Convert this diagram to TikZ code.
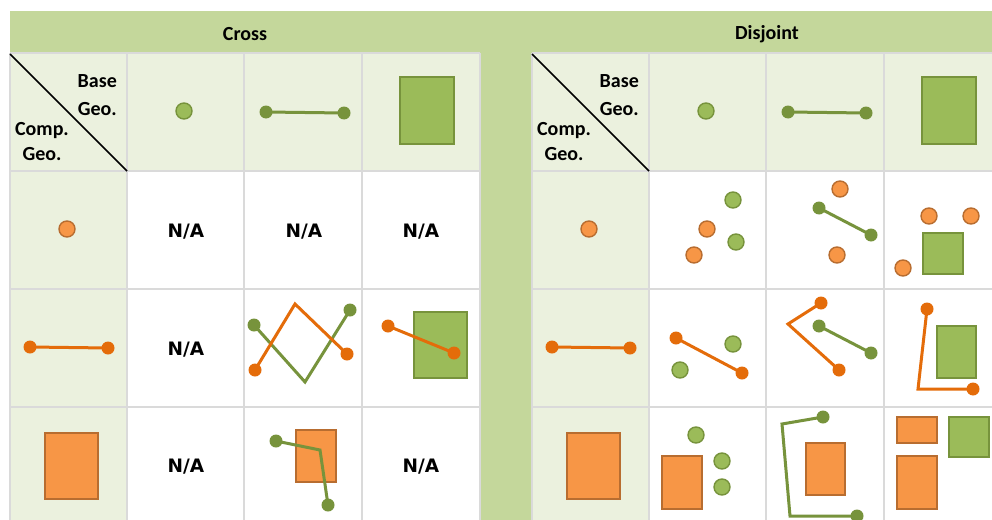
\documentclass[tikz,border=0pt]{standalone}
\usepackage{fontspec}
\setmainfont{Carlito}
\newfontfamily\nafont{DejaVu Sans}
\definecolor{band}{HTML}{C4D79B}
\definecolor{light}{HTML}{EBF1DE}
\definecolor{gridc}{HTML}{DADADA}
\definecolor{gfill}{HTML}{9BBB59}
\definecolor{gline}{HTML}{77933C}
\definecolor{ofill}{HTML}{F79646}
\definecolor{oedge}{HTML}{B86D30}
\definecolor{oline}{HTML}{E46C0A}
\tikzset{
  ptO/.style={fill=ofill,draw=oedge,line width=1.4pt},
  ptG/.style={fill=gfill,draw=gline,line width=1.4pt},
  rectO/.style={fill=ofill,draw=oedge,line width=1.6pt},
  rectG/.style={fill=gfill,draw=gline,line width=1.6pt},
  olin/.style={draw=oline,line width=3pt,line join=miter},
  glin/.style={draw=gline,line width=3pt,line join=miter},
  dotO/.style={fill=oline},
  dotG/.style={fill=gline},
  gridline/.style={draw=gridc,line width=2.4pt},
  hdr/.style={font=\fontsize{20}{22}\selectfont\bfseries,inner sep=0pt},
  lab/.style={font=\fontsize{20}{22}\selectfont\bfseries,inner sep=0pt},
  na/.style={font=\nafont\fontsize{18.5}{20}\selectfont\bfseries,inner sep=0pt}
}
\begin{document}
\begin{tikzpicture}[x=1pt,y=-1pt]
\useasboundingbox (0,0) rectangle (992,519);
\clip (0,0) rectangle (992,519);
\fill[white] (0,0) rectangle (992,519);
\fill[band] (10,11) rectangle (1010,530);
% ---------- table shells ----------
\foreach \ox in {0,522}{
  \begin{scope}[xshift=\ox pt]
    \fill[white] (10,53) rectangle (480,530);
    \fill[light] (10,53) rectangle (480,171);
    \fill[light] (10,53) rectangle (127,530);
    \foreach \xx in {10,127,244,362,480}{\draw[gridline] (\xx,53) -- (\xx,530);}
    \foreach \yy in {53,171,289,407}{\draw[gridline] (10,\yy) -- (480,\yy);}
    \draw[black,line width=1.6pt] (10,54) -- (127,171);
    \node[lab,anchor=base east] at (117,87) {Base};
    \node[lab,anchor=base east] at (117,115) {Geo.};
    \node[lab,anchor=base] at (42,135) {Comp.};
    \node[lab,anchor=base] at (42,160) {Geo.};
    % header base geometries
    \draw[ptG] (184,111) circle (8);
    \draw[glin] (266,112) -- (344,113);
    \fill[dotG] (266,112) circle (6.5);
    \fill[dotG] (344,113) circle (6.5);
    \draw[rectG] (400,77) rectangle (454,144);
    % first column comparison geometries
    \draw[ptO] (67,229) circle (8);
    \draw[olin] (30,347) -- (108,348);
    \fill[dotO] (30,347) circle (6.5);
    \fill[dotO] (108,348) circle (6.5);
    \draw[rectO] (45,433) rectangle (98,499);
  \end{scope}
}
\node[hdr] (cross) at (245,34) {Cross};
\node[hdr] (disj) at (767,34) {Disjoint};
% ---------- Cross cells ----------
\node[na] (na1) at (186,232) {N/A};
\node[na] (na2) at (304,232) {N/A};
\node[na] (na3) at (421,232) {N/A};
\node[na] (na4) at (186,350) {N/A};
\node[na] (na5) at (186,467) {N/A};
\node[na] (na6) at (421,467) {N/A};
% line x line
\draw[glin] (254,325) -- (305,382) -- (350,310);
\fill[dotG] (254,325) circle (6.5);
\fill[dotG] (350,310) circle (6.5);
\draw[olin] (255,370) -- (295,304) -- (347,354);
\fill[dotO] (255,370) circle (6.5);
\fill[dotO] (347,354) circle (6.5);
% line x area
\draw[rectG] (414,312) rectangle (467,378);
\draw[olin] (388,326) -- (454,353);
\fill[dotO] (388,326) circle (6.5);
\fill[dotO] (454,353) circle (6.5);
% area x line
\draw[rectO] (296,430) rectangle (336,482);
\draw[glin] (276,441) -- (320,450) -- (328,505);
\fill[dotG] (276,441) circle (6.5);
\fill[dotG] (328,505) circle (6.5);
% ---------- Disjoint cells ----------
% point / point
\draw[ptG] (733,200) circle (8);
\draw[ptG] (736,242) circle (8);
\draw[ptO] (707,229) circle (8);
\draw[ptO] (694,255) circle (8);
% point / line
\draw[ptO] (840,189) circle (8);
\draw[ptO] (837,255) circle (8);
\draw[glin] (819,208) -- (871,235);
\fill[dotG] (819,208) circle (6.5);
\fill[dotG] (871,235) circle (6.5);
% point / area
\draw[ptO] (929,216) circle (8);
\draw[ptO] (971,216) circle (8);
\draw[ptO] (903,268) circle (8);
\draw[rectG] (923,233) rectangle (963,274);
% line / point
\draw[olin] (676,338) -- (742,373);
\fill[dotO] (676,338) circle (6.5);
\fill[dotO] (742,373) circle (6.5);
\draw[ptG] (733,344) circle (8);
\draw[ptG] (680,370) circle (8);
% line / line
\draw[olin] (821,303) -- (788,324) -- (839,370);
\fill[dotO] (821,303) circle (6.5);
\fill[dotO] (839,370) circle (6.5);
\draw[glin] (819,326) -- (871,353);
\fill[dotG] (819,326) circle (6.5);
\fill[dotG] (871,353) circle (6.5);
% line / area
\draw[rectG] (937,326) rectangle (976,378);
\draw[olin] (927,309) -- (918,389) -- (973,389);
\fill[dotO] (927,309) circle (6.5);
\fill[dotO] (973,389) circle (6.5);
% area / point
\draw[ptG] (696,435) circle (8);
\draw[ptG] (722,461) circle (8);
\draw[ptG] (722,487) circle (8);
\draw[rectO] (662,456) rectangle (702,509);
% area / line
\draw[rectO] (806,443) rectangle (845,495);
\draw[glin] (823,417) -- (782,424) -- (790,516) -- (857,516);
\fill[dotG] (823,417) circle (6.5);
\fill[dotG] (857,516) circle (6.5);
% area / area
\draw[rectO] (897,417) rectangle (937,443);
\draw[rectO] (897,456) rectangle (937,509);
\draw[rectG] (949,417) rectangle (989,457);
\end{tikzpicture}
\end{document}
